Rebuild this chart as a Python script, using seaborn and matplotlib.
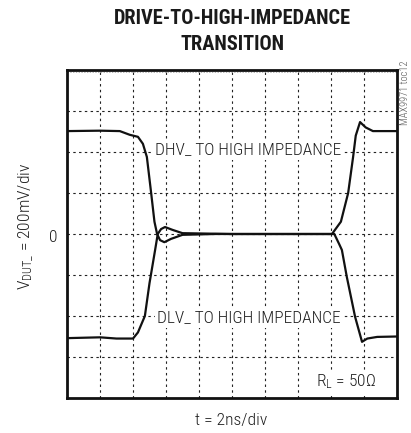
import matplotlib
matplotlib.use("Agg")
import matplotlib.pyplot as plt
import seaborn as sns
import pandas as pd

# time in divisions (2ns/div), voltage in divisions (200mV/div)
high_t = [0, 1.0, 1.6, 1.9, 2.15, 2.3, 2.42, 2.55, 2.65, 2.73, 2.82, 2.95, 3.15, 3.5, 4.5, 6.0, 7.5, 8.03, 8.3, 8.52, 8.67, 8.75, 8.88, 9.05, 9.27, 10.0]
high_v = [2.51, 2.52, 2.51, 2.42, 2.37, 2.2, 1.88, 1.0, 0.3, 0.0, -0.15, -0.2, -0.12, -0.02, 0.0, 0.0, 0.0, 0.0, 0.3, 1.0, 1.88, 2.4, 2.73, 2.6, 2.51, 2.51]

low_t = [0, 1.0, 1.5, 2.0, 2.15, 2.36, 2.5, 2.67, 2.75, 2.85, 2.97, 3.2, 3.5, 5.0, 7.0, 8.1, 8.25, 8.33, 8.48, 8.73, 8.94, 9.1, 9.4, 10.0]
low_v = [-2.54, -2.52, -2.55, -2.55, -2.4, -2.0, -1.2, -0.39, 0.0, 0.12, 0.17, 0.1, 0.02, 0.0, 0.0, 0.0, -0.25, -0.39, -1.05, -2.02, -2.63, -2.55, -2.51, -2.5]

title_lines = ["DRIVE-TO-HIGH-IMPEDANCE", "TRANSITION"]
x_label = "t = 2ns/div"
y_label = r"V$_{\mathrm{DUT\_}}$ = 200mV/div"
label_high = "DHV_ TO HIGH IMPEDANCE"
label_low = "DLV_ TO HIGH IMPEDANCE"
label_rl = r"R$_{\mathrm{L}}$ = 50Ω"
side_note = "MAX9971 toc12"

sns.set_style("white")
FAM = ["Roboto Condensed", "DejaVu Sans"]
plt.rcParams["font.family"] = FAM
plt.rcParams["mathtext.fontset"] = "custom"
plt.rcParams["mathtext.rm"] = "Roboto Condensed:light"
plt.rcParams["mathtext.it"] = "Roboto Condensed:light"

TXT = "#1e1e1e"
fig = plt.figure(figsize=(4.11, 4.33), dpi=100)
ax = fig.add_axes([67/411, 1-398/433, 330/411, 328/433])

df_high = pd.DataFrame({"t": high_t, "v": high_v})
df_low = pd.DataFrame({"t": low_t, "v": low_v})
sns.lineplot(data=df_high, x="t", y="v", sort=False, estimator=None, color="#111111", lw=1.6, ax=ax)
sns.lineplot(data=df_low, x="t", y="v", sort=False, estimator=None, color="#111111", lw=1.6, ax=ax)

ax.set_xlim(0, 10)
ax.set_ylim(-4, 4)
for xv in range(1, 10):
    ax.axvline(xv, color="#222222", lw=0.8, ls=(0, (2.2, 3.0)), zorder=0)
for yv in range(-3, 4):
    ax.axhline(yv, color="#222222", lw=0.8, ls=(0, (2.2, 3.0)), zorder=0)
ax.axhline(3.955, color="#999999", lw=0.5, ls=(0, (2.0, 2.0)), zorder=0)
ax.set_xticks([])
ax.set_yticks([])
ax.set_xlabel("")
ax.set_ylabel("")
for s in ax.spines.values():
    s.set_visible(True)
    s.set_linewidth(2.0)
    s.set_color("#111111")

box = dict(facecolor="white", edgecolor="none", pad=1.5)
ax.text(2.68, 2.05, label_high, fontsize=12.4, fontweight="light", ha="left", va="center", color=TXT, bbox=box)
ax.text(2.72, -2.05, label_low, fontsize=12.4, fontweight="light", ha="left", va="center", color=TXT, bbox=box)
ax.text(7.55, -3.6, label_rl, fontsize=12.6, fontweight="light", ha="left", va="center", color=TXT, bbox=box)

fig.text(53/411, 1-237/433, "0", fontsize=12.6, fontweight="light", ha="center", va="center", color=TXT)
fig.text(26/411, 1-226/433, y_label, fontsize=12.6, fontweight="light", rotation=90, ha="center", va="center", color=TXT)
fig.text(231/411, 1-420/433, x_label, fontsize=12.6, fontweight="light", ha="center", va="center", color=TXT)
fig.text(232/411, 1-18/433, title_lines[0], fontsize=14.7, fontweight="bold", ha="center", va="center", color="#1a1a1a")
fig.text(232/411, 1-44/433, title_lines[1], fontsize=14.7, fontweight="bold", ha="center", va="center", color="#1a1a1a")
fig.text(405/411, 1-93/433, side_note, fontsize=7.5, fontweight="light", rotation=90, ha="center", va="center", color="#555555")

fig.savefig("out.png", dpi=100)
